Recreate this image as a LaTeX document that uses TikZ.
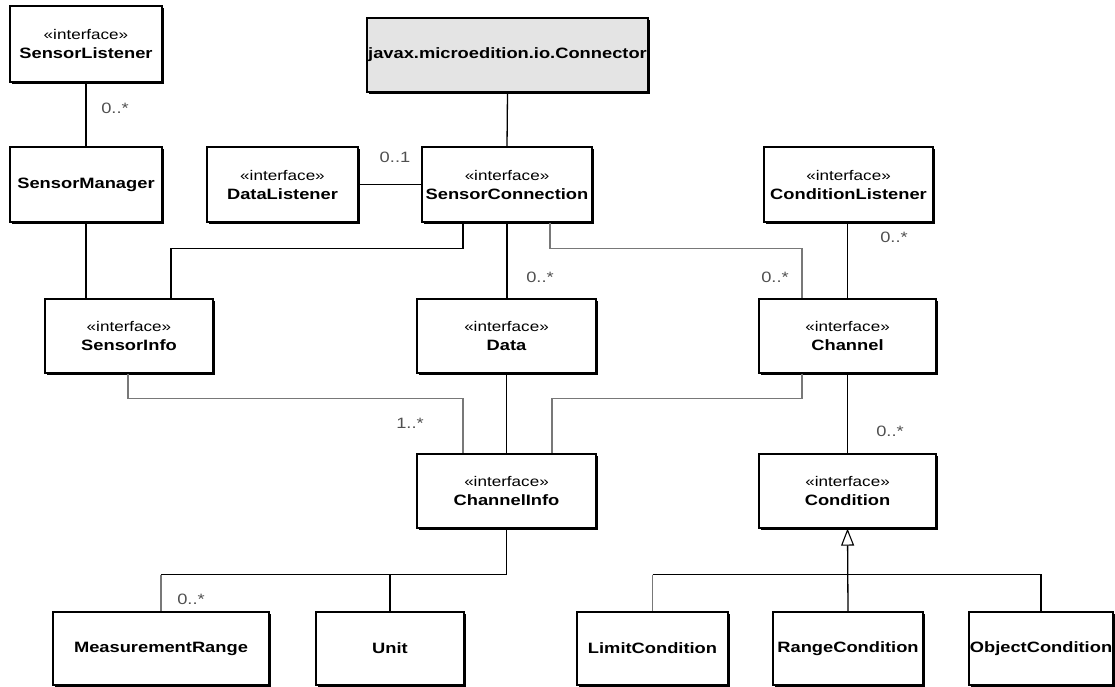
\documentclass[tikz,border=0pt]{standalone}
\usepackage{fontspec}
\setmainfont{Liberation Sans}
\newfontfamily\umlfont[FakeStretch=1.22]{Liberation Sans}
\usetikzlibrary{arrows.meta,shadows}
\definecolor{connfill}{RGB}{228,228,228}
\definecolor{thinline}{RGB}{120,120,120}
\definecolor{multgray}{RGB}{80,80,80}
% two-line interface box text and one-line class box text
\newcommand\iface[1]{{\fontsize{14}{19}\selectfont «interface»}\\\mbox{\bfseries #1}}
\newcommand\cls[1]{\mbox{\bfseries #1}}

\begin{document}
\begin{tikzpicture}[x=1pt,y=-1pt,
  umlbox/.style={draw=black, line width=1.2pt, fill=white, inner sep=0pt, align=center,
    font=\umlfont\fontsize{15}{19}\selectfont,
    drop shadow={shadow xshift=1.6pt, shadow yshift=-1.6pt, opacity=1, fill=black}},
  assoc/.style={draw=black, line width=1.3pt},
  faint/.style={draw=thinline, line width=1.1pt},
  mult/.style={font=\umlfont\fontsize{15}{15}\selectfont, text=multgray, inner sep=0pt},
]
\useasboundingbox (0,0) rectangle (1115,686);

% ---- classes and interfaces ----
\node[umlbox, text width=152pt, minimum height=76pt] (sl)   at (86,44)      {\iface{SensorListener}};
\node[umlbox, fill=connfill, text width=281pt, minimum height=74pt] (conn) at (507.5,55) {\cls{javax.microedition.io.Connector}};
\node[umlbox, text width=152pt, minimum height=75pt] (sm)   at (86,184.5)   {\cls{SensorManager}};
\node[umlbox, text width=151pt, minimum height=75pt] (dl)   at (282.5,184.5) {\iface{DataListener}};
\node[umlbox, text width=170pt, minimum height=75pt] (sc)   at (507,184.5)  {\iface{SensorConnection}};
\node[umlbox, text width=169pt, minimum height=75pt] (cl)   at (848.5,184.5) {\iface{ConditionListener}};
\node[umlbox, text width=168pt, minimum height=74pt] (si)   at (129,336)    {\iface{SensorInfo}};
\node[umlbox, text width=179pt, minimum height=74pt] (data) at (506.5,336)  {\iface{Data}};
\node[umlbox, text width=177pt, minimum height=74pt] (chan) at (847.5,336)  {\iface{Channel}};
\node[umlbox, text width=179pt, minimum height=74pt] (ci)   at (506.5,491)  {\iface{ChannelInfo}};
\node[umlbox, text width=177pt, minimum height=74pt] (cond) at (847.5,491)  {\iface{Condition}};
\node[umlbox, text width=216pt, minimum height=73pt] (mr)   at (161,648.5)  {\cls{MeasurementRange}};
\node[umlbox, text width=148pt, minimum height=73pt] (unit) at (390,648.5)  {\cls{Unit}};
\node[umlbox, text width=151pt, minimum height=73pt] (lc)   at (652.5,648.5) {\cls{LimitCondition}};
\node[umlbox, text width=150pt, minimum height=73pt] (rc)   at (848,648.5)  {\cls{RangeCondition}};
\node[umlbox, text width=144pt, minimum height=73pt] (oc)   at (1041,648.5) {\cls{ObjectCondition}};

% ---- associations ----
\draw[assoc] (sl.south) -- (sm.north);
\draw[assoc] (conn.south) -- (sc.north);
\draw[assoc] (dl.east) -- (sc.west);
\draw[assoc] (sm.south) -- (sm.south |- si.north);
\draw[assoc] ([xshift=-44pt]sc.south) -- ++(0,26) -| ([xshift=42pt]si.north);
\draw[assoc] (sc.south) -- (sc.south |- data.north);
\draw[faint] ([xshift=43pt]sc.south) -- ++(0,26) -| ([xshift=-45.5pt]chan.north);
\draw[assoc] (chan.north |- cl.south) -- (chan.north);
\draw[faint] ([xshift=-1pt]si.south) -- ++(0,25) -| ([xshift=-43.5pt]ci.north);
\draw[assoc] (data.south) -- (ci.north);
\draw[faint] ([xshift=-45.5pt]chan.south) -- ++(0,25) -| ([xshift=45.5pt]ci.north);
\draw[assoc] (chan.south) -- (cond.north);

% ChannelInfo to its range and unit
\draw[assoc] (ci.south) -- ++(0,46) coordinate (cj) -- (cj -| mr.north);
\draw[faint] (cj -| mr.north) -- (mr.north);
\draw[assoc] (cj -| unit.north) -- (unit.north);

% Condition generalization tree
\coordinate (gj) at ([yshift=-46pt]cond.south);
\draw[assoc, -{Triangle[fill=white, length=17pt, width=13pt, line width=1.1pt]}] (rc.north) -- (cond.south);
\draw[assoc] (gj -| lc.north) -- (gj -| oc.north) -- (oc.north);
\draw[faint] (gj -| lc.north) -- (lc.north);

% ---- multiplicities ----
\node[mult] (m1) at (115,108) {0..*};
\node[mult] (m2) at (395,157) {0..1};
\node[mult] (m3) at (540,277) {0..*};
\node[mult] (m4) at (775,277) {0..*};
\node[mult] (m5) at (894,237) {0..*};
\node[mult] (m6) at (410,423) {1..*};
\node[mult] (m7) at (890,431) {0..*};
\node[mult] (m8) at (191,599) {0..*};
\end{tikzpicture}
\end{document}
